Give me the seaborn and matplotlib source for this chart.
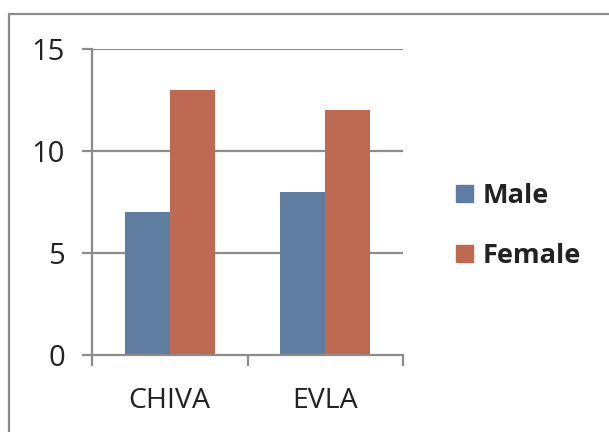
import matplotlib
matplotlib.use("Agg")
import matplotlib.pyplot as plt
from matplotlib.lines import Line2D
from matplotlib.patches import Patch
import seaborn as sns
import pandas as pd

# Data
procedures = ["CHIVA", "EVLA"]
male_counts = [7, 8]
female_counts = [13, 12]
y_ticks = [0, 5, 10, 15]

df = pd.DataFrame({
    "Procedure": procedures * 2,
    "Sex": ["Male"] * len(procedures) + ["Female"] * len(procedures),
    "Count": male_counts + female_counts,
})

sns.set_theme(style="white")
plt.rcParams["font.family"] = ["Open Sans", "DejaVu Sans"]

male_color = "#5F7CA1"
female_color = "#BE6A52"
line_gray = "#8E8B8B"
text_color = "#222222"

fig = plt.figure(figsize=(6.09, 4.32), dpi=100)
ax = fig.add_axes([92 / 609, 1 - 355 / 432, (403 - 92) / 609, (355 - 49) / 432])

sns.barplot(data=df, x="Procedure", y="Count", hue="Sex",
            palette={"Male": male_color, "Female": female_color},
            width=0.58, ax=ax, legend=False, saturation=1, linewidth=0)

ax.set_xlim(-0.5, 1.5)
ax.set_ylim(0, 15)
ax.set_yticks(y_ticks)
ax.set_xlabel("")
ax.set_ylabel("")

# Horizontal gridlines behind bars
for v in y_ticks[1:]:
    ax.axhline(v, color=line_gray, lw=1.6, zorder=0)
ax.set_axisbelow(True)

for side in ["top", "right"]:
    ax.spines[side].set_visible(False)
for side in ["left", "bottom"]:
    ax.spines[side].set_color(line_gray)
    ax.spines[side].set_linewidth(1.6)

ax.tick_params(axis="y", which="major", direction="out", length=7.5, width=1.6,
               color=line_gray, labelsize=21, labelcolor=text_color, pad=12, left=True)
ax.tick_params(axis="x", which="major", length=0, labelsize=20.5,
               labelcolor=text_color, pad=23)
ax.set_xticks([-0.5, 0.5, 1.5], minor=True)
ax.tick_params(axis="x", which="minor", direction="out", length=8, width=1.6,
               color=line_gray, bottom=True)

handles = [Patch(facecolor=male_color, edgecolor=male_color),
           Patch(facecolor=female_color, edgecolor=female_color)]
leg = fig.legend(handles, ["Male", "Female"], loc="center left",
                 bbox_to_anchor=(432 / 609, 1 - 226 / 432), frameon=False,
                 prop={"size": 19.5, "weight": "bold"},
                 handlelength=0.62, handleheight=0.62, handletextpad=0.35,
                 labelspacing=1.25)
for t in leg.get_texts():
    t.set_color(text_color)

# Outer frame: top and left edges
fig.add_artist(Line2D([9 / 609, 9 / 609], [1 - 14 / 432, 0], transform=fig.transFigure,
                      color=line_gray, lw=1.6))
fig.add_artist(Line2D([9 / 609, 1], [1 - 14 / 432, 1 - 14 / 432], transform=fig.transFigure,
                      color=line_gray, lw=1.6))

fig.savefig("out.png", dpi=100)
